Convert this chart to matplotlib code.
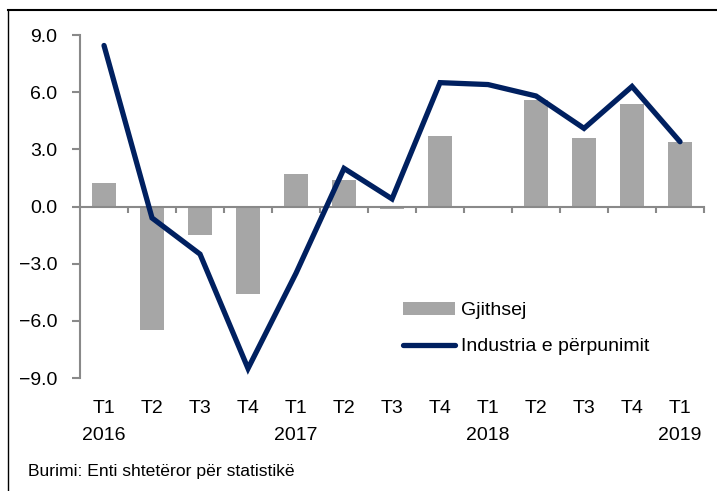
import matplotlib
matplotlib.use("Agg")
import matplotlib.pyplot as plt
import matplotlib.ticker as ticker
from matplotlib.lines import Line2D
import numpy as np

plt.rcParams["font.family"] = ["Liberation Sans", "DejaVu Sans"]

# Données
tremujoret = ["T1", "T2", "T3", "T4", "T1", "T2", "T3", "T4", "T1", "T2", "T3", "T4", "T1"]
vitet = ["2016", "", "", "", "2017", "", "", "", "2018", "", "", "", "2019"]
gjithsej = [1.25, -6.5, -1.5, -4.6, 1.7, 1.4, -0.15, 3.7, 0.0, 5.6, 3.6, 5.4, 3.4]
industria = [8.45, -0.6, -2.5, -8.5, -3.5, 2.0, 0.4, 6.5, 6.4, 5.8, 4.1, 6.3, 3.4]

gris_axe = "#898989"

fig = plt.figure(figsize=(7.17, 4.91), dpi=100)
ax = fig.add_axes([0.1116, 0.2301, 0.8703, 0.6986])

x = np.arange(len(tremujoret))
barres = ax.bar(x, gjithsej, width=0.5, color="#A6A6A6", label="Gjithsej", zorder=2)
ligne, = ax.plot(x, industria, color="#002060", linewidth=3.8, label="Industria e përpunimit",
                 solid_joinstyle="miter", solid_capstyle="round", zorder=3)

ax.set_xlim(-0.5, len(tremujoret) - 0.5)
ax.set_ylim(-9, 9)

# Axes
for cote in ["top", "right"]:
    ax.spines[cote].set_visible(False)
ax.spines["left"].set_color(gris_axe)
ax.spines["left"].set_linewidth(1.5)
ax.spines["bottom"].set_color(gris_axe)
ax.spines["bottom"].set_linewidth(1.5)
ax.spines["bottom"].set_position(("data", 0))
ax.spines["bottom"].set_zorder(2.5)

ax.yaxis.set_major_locator(ticker.MultipleLocator(3))
ax.yaxis.set_major_formatter(ticker.StrMethodFormatter("{x:.1f}"))
ax.tick_params(axis="y", direction="out", length=5.8, width=1.5, color=gris_axe,
               pad=10.5, labelsize=14, labelcolor="black")

ax.set_xticks(x + 0.5)
ax.set_xticklabels([])
ax.tick_params(axis="x", direction="out", length=4.3, width=1.5, color=gris_axe)

# Étiquettes des catégories sous le graphique
for i, (t, v) in enumerate(zip(tremujoret, vitet)):
    ax.text(i, -0.088, t, transform=ax.get_xaxis_transform(), ha="center", va="center", fontsize=14)
    if v:
        ax.text(i, -0.167, v, transform=ax.get_xaxis_transform(), ha="center", va="center", fontsize=14)

ax.legend([barres, ligne], ["Gjithsej", "Industria e përpunimit"],
          loc="upper left", bbox_to_anchor=(0.505, 0.245), frameon=False, fontsize=14,
          handlelength=2.7, handletextpad=0.3, labelspacing=0.95, borderaxespad=0)

# Source
fig.text(0.039, 0.039, "Burimi: Enti shtetëror për statistikë", fontsize=12.6, ha="left", va="center")

# Cadre
fig.add_artist(Line2D([0.0112, 1.0], [0.98, 0.98], color="black", linewidth=1.5, transform=fig.transFigure))
fig.add_artist(Line2D([0.0112, 0.0112], [0.0, 0.98], color="black", linewidth=1.0, transform=fig.transFigure))

fig.savefig("out.png", dpi=100)
